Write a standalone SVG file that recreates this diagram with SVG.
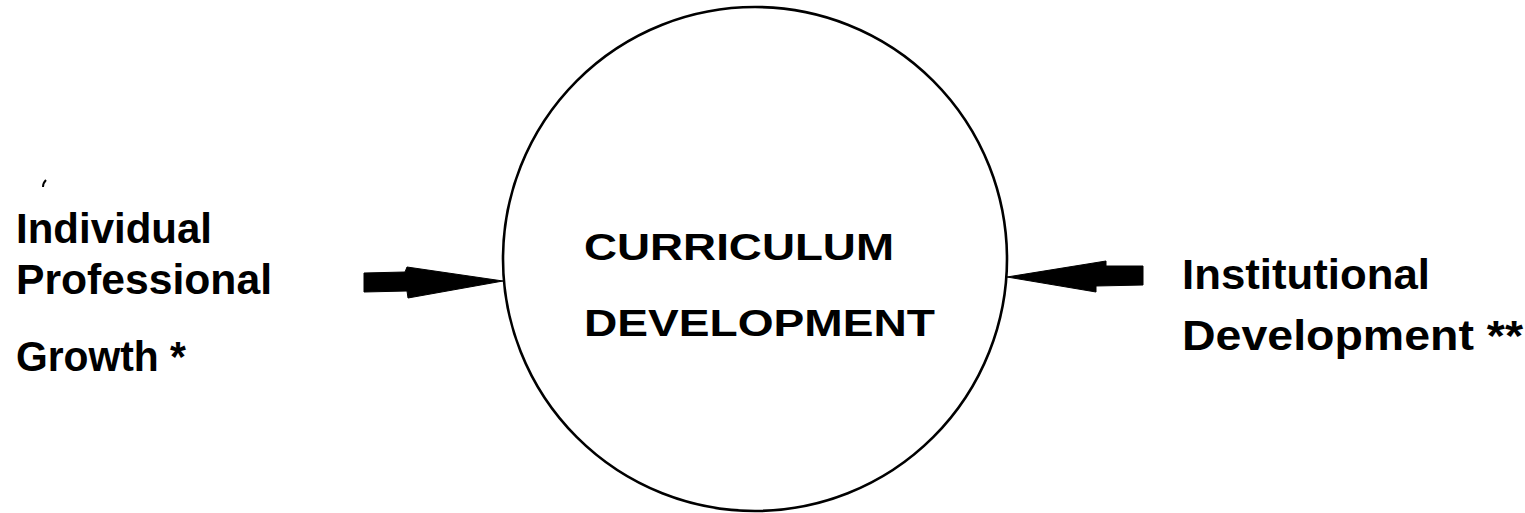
<svg xmlns="http://www.w3.org/2000/svg" width="1525" height="513" viewBox="0 0 1525 513">
  <style>
    .label { font-family: "Liberation Sans", Arial, Helvetica, sans-serif; font-weight: bold; font-size: 43px; fill: #000; }
    .core { font-family: "Liberation Sans", Arial, Helvetica, sans-serif; font-weight: bold; font-size: 37px; fill: #000; }
    .ring { fill: none; stroke: #000; stroke-width: 2.6; }
    .arrow { fill: #000; stroke: #000; stroke-width: 1; stroke-linejoin: round; }
  </style>
  <rect width="1525" height="513" fill="#fff"/>

  <!-- central circle -->
  <g id="curriculum-development">
    <circle class="ring" cx="755" cy="259" r="252"/>
    <text class="core" x="584" y="260" textLength="310" lengthAdjust="spacingAndGlyphs">CURRICULUM</text>
    <text class="core" x="584" y="336" textLength="351" lengthAdjust="spacingAndGlyphs">DEVELOPMENT</text>
  </g>

  <!-- left input -->
  <g id="individual-growth">
    <text class="label" x="16" y="243" textLength="196" lengthAdjust="spacingAndGlyphs">Individual</text>
    <text class="label" x="16" y="294" textLength="256" lengthAdjust="spacingAndGlyphs">Professional</text>
    <text class="label" x="16" y="371" textLength="170" lengthAdjust="spacingAndGlyphs">Growth *</text>
  </g>

  <!-- right input -->
  <g id="institutional-development">
    <text class="label" x="1182" y="289" textLength="248" lengthAdjust="spacingAndGlyphs">Institutional</text>
    <text class="label" x="1182" y="350" textLength="341" lengthAdjust="spacingAndGlyphs">Development **</text>
  </g>

  <!-- block arrows pointing into the circle -->
  <g id="connectors">
    <polygon class="arrow" points="364,273 405,272 407,267 503,281 408,298 407,291 364,292"/>
    <polygon class="arrow" points="1007,277 1106,261 1106,266 1143,266 1143,285 1096,286 1096,292"/>
  </g>

  <!-- stray mark -->
  <path d="M46,180 Q43,183 43,187" fill="none" stroke="#000" stroke-width="2"/>
</svg>
